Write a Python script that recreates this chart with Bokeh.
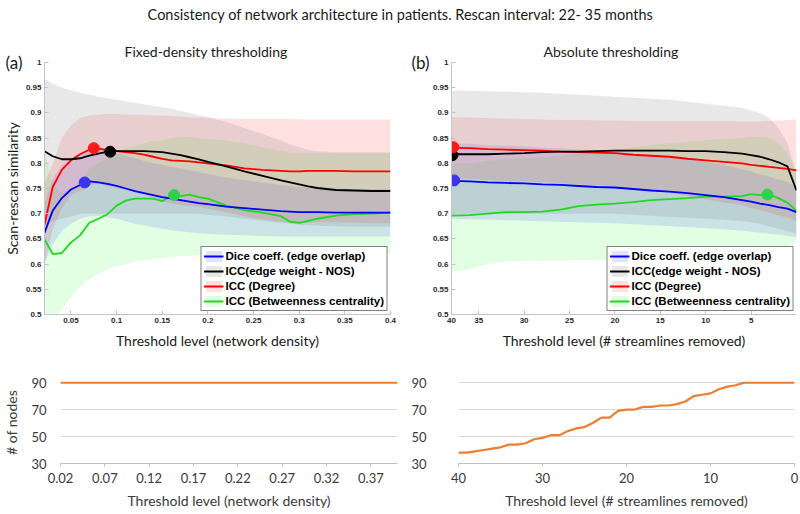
from bokeh.plotting import figure
from bokeh.models import (Range1d, FixedTicker, NumeralTickFormatter, Label, Legend, LegendItem,
                          LinearAxis)
from bokeh.layouts import column, row
from bokeh.embed import file_html
from bokeh.resources import INLINE

# ------------------------------------------------------------------ data
main_title = "Consistency of network architecture in patients. Rescan interval: 22- 35 months"
series_names = ["Dice coeff. (edge overlap)", "ICC(edge weight - NOS)",
                "ICC (Degree)", "ICC (Betweenness centrality)"]

# (a) fixed-density thresholding
density = [0.021, 0.03, 0.04, 0.05, 0.06, 0.07, 0.08, 0.09, 0.10, 0.11, 0.12, 0.13, 0.14, 0.15,
           0.16, 0.17, 0.18, 0.19, 0.20, 0.22, 0.24, 0.26, 0.28, 0.29, 0.30, 0.31, 0.32, 0.34,
           0.36, 0.38, 0.40]
dice_fd = [0.662, 0.706, 0.731, 0.748, 0.757, 0.764, 0.762, 0.759, 0.755, 0.750, 0.745, 0.741,
           0.737, 0.733, 0.730, 0.727, 0.724, 0.721, 0.719, 0.714, 0.711, 0.708, 0.705, 0.704,
           0.703, 0.703, 0.703, 0.702, 0.702, 0.702, 0.702]
dice_fd_lo = [0.600, 0.640, 0.665, 0.680, 0.690, 0.695, 0.695, 0.693, 0.690, 0.685, 0.680, 0.677,
              0.673, 0.670, 0.667, 0.665, 0.663, 0.661, 0.660, 0.658, 0.657, 0.656, 0.655, 0.655,
              0.655, 0.655, 0.655, 0.655, 0.655, 0.655, 0.655]
dice_fd_hi = [0.720, 0.770, 0.795, 0.810, 0.820, 0.830, 0.830, 0.825, 0.820, 0.815, 0.810, 0.805,
              0.800, 0.797, 0.793, 0.790, 0.786, 0.782, 0.779, 0.772, 0.767, 0.762, 0.757, 0.755,
              0.753, 0.752, 0.751, 0.750, 0.749, 0.749, 0.749]
nos_fd = [0.824, 0.814, 0.808, 0.808, 0.810, 0.815, 0.819, 0.823, 0.824, 0.824, 0.824, 0.824,
          0.823, 0.822, 0.819, 0.816, 0.812, 0.808, 0.803, 0.794, 0.784, 0.775, 0.766, 0.762,
          0.758, 0.754, 0.751, 0.747, 0.746, 0.745, 0.745]
nos_fd_lo = [0.680, 0.685, 0.690, 0.695, 0.700, 0.700, 0.700, 0.700, 0.700, 0.700, 0.700, 0.700,
             0.700, 0.700, 0.700, 0.700, 0.700, 0.700, 0.698, 0.695, 0.690, 0.686, 0.682, 0.680,
             0.678, 0.677, 0.676, 0.675, 0.674, 0.674, 0.674]
nos_fd_hi = [0.968, 0.958, 0.950, 0.945, 0.940, 0.936, 0.932, 0.929, 0.926, 0.923, 0.920, 0.917,
             0.914, 0.911, 0.908, 0.904, 0.900, 0.896, 0.892, 0.882, 0.870, 0.858, 0.845, 0.838,
             0.832, 0.827, 0.824, 0.822, 0.822, 0.822, 0.822]
deg_fd = [0.678, 0.753, 0.787, 0.806, 0.818, 0.827, 0.829, 0.826, 0.824, 0.822, 0.820, 0.817,
          0.813, 0.809, 0.806, 0.805, 0.804, 0.802, 0.800, 0.796, 0.790, 0.787, 0.785, 0.784,
          0.784, 0.785, 0.785, 0.785, 0.784, 0.784, 0.784]
deg_fd_lo = [0.600, 0.670, 0.710, 0.737, 0.745, 0.755, 0.760, 0.755, 0.750, 0.747, 0.744, 0.740,
             0.733, 0.725, 0.720, 0.717, 0.716, 0.714, 0.710, 0.703, 0.695, 0.688, 0.684, 0.682,
             0.681, 0.682, 0.683, 0.683, 0.682, 0.681, 0.681]
deg_fd_hi = [0.760, 0.800, 0.850, 0.875, 0.890, 0.895, 0.897, 0.898, 0.898, 0.897, 0.896, 0.896,
             0.895, 0.895, 0.894, 0.893, 0.892, 0.891, 0.890, 0.889, 0.888, 0.888, 0.888, 0.888,
             0.887, 0.887, 0.887, 0.887, 0.887, 0.887, 0.887]
btw_fd = [0.649, 0.620, 0.622, 0.643, 0.657, 0.682, 0.690, 0.699, 0.716, 0.726, 0.730, 0.730,
          0.730, 0.725, 0.735, 0.735, 0.738, 0.733, 0.730, 0.716, 0.707, 0.702, 0.695, 0.684,
          0.682, 0.686, 0.690, 0.696, 0.699, 0.700, 0.702]
btw_fd_lo = [0.470, 0.490, 0.510, 0.535, 0.555, 0.570, 0.580, 0.590, 0.595, 0.600, 0.605, 0.608,
             0.610, 0.612, 0.614, 0.616, 0.617, 0.618, 0.619, 0.620, 0.620, 0.620, 0.620, 0.620,
             0.620, 0.620, 0.620, 0.620, 0.620, 0.620, 0.620]
btw_fd_hi = [0.820, 0.760, 0.740, 0.750, 0.760, 0.790, 0.800, 0.810, 0.820, 0.830, 0.835, 0.840,
             0.845, 0.845, 0.850, 0.852, 0.852, 0.850, 0.848, 0.845, 0.840, 0.832, 0.825, 0.822,
             0.820, 0.820, 0.820, 0.820, 0.820, 0.820, 0.820]
peak_fd_x = [0.065, 0.093, 0.075, 0.163]
peak_fd_y = [0.762, 0.823, 0.830, 0.737]

# (b) absolute thresholding
removed = [38, 36, 34, 32, 30, 28, 26, 24, 22, 20, 18, 16, 14, 12, 10, 8, 6, 5, 4, 3, 2, 1, 0]
dice_ab = [0.765, 0.764, 0.762, 0.761, 0.760, 0.758, 0.757, 0.755, 0.753, 0.752, 0.749, 0.746,
           0.744, 0.741, 0.737, 0.733, 0.727, 0.724, 0.720, 0.717, 0.713, 0.710, 0.703]
dice_ab_lo = [0.690, 0.689, 0.688, 0.687, 0.686, 0.685, 0.684, 0.683, 0.682, 0.681, 0.679, 0.677,
              0.675, 0.673, 0.671, 0.669, 0.666, 0.664, 0.662, 0.660, 0.658, 0.656, 0.654]
dice_ab_hi = [0.840, 0.839, 0.836, 0.835, 0.834, 0.831, 0.830, 0.827, 0.824, 0.823, 0.819, 0.815,
              0.813, 0.809, 0.803, 0.797, 0.788, 0.784, 0.778, 0.774, 0.768, 0.764, 0.752]
nos_ab = [0.818, 0.818, 0.818, 0.819, 0.820, 0.822, 0.823, 0.823, 0.824, 0.825, 0.825, 0.825,
          0.825, 0.824, 0.824, 0.822, 0.819, 0.816, 0.813, 0.808, 0.802, 0.794, 0.746]
nos_ab_lo = [0.700, 0.700, 0.700, 0.700, 0.700, 0.700, 0.700, 0.700, 0.700, 0.700, 0.698, 0.696,
             0.694, 0.692, 0.690, 0.688, 0.685, 0.683, 0.680, 0.675, 0.670, 0.665, 0.660]
nos_ab_hi = [0.944, 0.944, 0.943, 0.942, 0.941, 0.940, 0.938, 0.936, 0.934, 0.932, 0.930, 0.928,
             0.926, 0.922, 0.918, 0.914, 0.910, 0.905, 0.900, 0.890, 0.870, 0.840, 0.780]
deg_ab = [0.831, 0.830, 0.828, 0.827, 0.826, 0.825, 0.823, 0.822, 0.821, 0.820, 0.817, 0.815,
          0.813, 0.809, 0.806, 0.803, 0.800, 0.797, 0.795, 0.793, 0.791, 0.789, 0.786]
deg_ab_lo = [0.770, 0.769, 0.767, 0.765, 0.764, 0.763, 0.760, 0.758, 0.757, 0.755, 0.750, 0.746,
             0.742, 0.735, 0.728, 0.722, 0.717, 0.711, 0.707, 0.702, 0.697, 0.692, 0.685]
deg_ab_hi = [0.892, 0.891, 0.890, 0.889, 0.888, 0.887, 0.886, 0.886, 0.885, 0.885, 0.884, 0.884,
             0.884, 0.884, 0.884, 0.884, 0.883, 0.883, 0.883, 0.884, 0.885, 0.886, 0.887]
btw_ab = [0.696, 0.697, 0.700, 0.703, 0.703, 0.704, 0.708, 0.715, 0.718, 0.720, 0.723, 0.727,
          0.729, 0.731, 0.734, 0.734, 0.735, 0.739, 0.737, 0.738, 0.731, 0.722, 0.706]
btw_ab_lo = [0.585, 0.590, 0.600, 0.605, 0.606, 0.607, 0.607, 0.608, 0.608, 0.609, 0.610, 0.610,
             0.610, 0.610, 0.610, 0.610, 0.610, 0.610, 0.610, 0.610, 0.620, 0.630, 0.650]
btw_ab_hi = [0.800, 0.800, 0.805, 0.808, 0.810, 0.812, 0.815, 0.820, 0.825, 0.828, 0.832, 0.836,
             0.840, 0.843, 0.846, 0.848, 0.850, 0.852, 0.852, 0.850, 0.840, 0.820, 0.780]
peak_ab_x = [37.7, 37.9, 37.8, 3.2]
peak_ab_y = [0.766, 0.816, 0.832, 0.738]

sim_ticks = [0.5, 0.55, 0.6, 0.65, 0.7, 0.75, 0.8, 0.85, 0.9, 0.95, 1.0]
density_ticks = [0.05, 0.1, 0.15, 0.2, 0.25, 0.3, 0.35, 0.4]
removed_ticks = [38, 35, 30, 25, 20, 15, 10, 5]

# node counts
density_nodes_x = [0.02, 0.03, 0.04, 0.05, 0.06, 0.07, 0.08, 0.09, 0.10, 0.11, 0.12, 0.13, 0.14,
                   0.15, 0.16, 0.17, 0.18, 0.19, 0.20, 0.21, 0.22, 0.23, 0.24, 0.25, 0.26, 0.27,
                   0.28, 0.29, 0.30, 0.31, 0.32, 0.33, 0.34, 0.35, 0.36, 0.37, 0.38, 0.39, 0.40]
density_nodes = [90, 90, 90, 90, 90, 90, 90, 90, 90, 90, 90, 90, 90, 90, 90, 90, 90, 90, 90, 90,
                 90, 90, 90, 90, 90, 90, 90, 90, 90, 90, 90, 90, 90, 90, 90, 90, 90, 90, 90]
removed_nodes_x = [40, 39, 38, 37, 36, 35, 34, 33, 32, 31, 30, 29, 28, 27, 26, 25, 24, 23, 22, 21,
                   20, 19, 18, 17, 16, 15, 14, 13, 12, 11, 10, 9, 8, 7, 6, 5, 4, 3, 2, 1, 0]
removed_nodes = [38, 38, 39, 40, 41, 42, 44, 44, 45, 48, 49, 51, 51, 54, 56, 57, 60, 64, 64, 69,
                 70, 70, 72, 72, 73, 73, 74, 76, 80, 81, 82, 85, 87, 88, 90, 90, 90, 90, 90, 90, 90]
node_ticks = [30, 50, 70, 90]
density_node_ticks = [0.02, 0.07, 0.12, 0.17, 0.22, 0.27, 0.32, 0.37]
removed_node_ticks = [40, 30, 20, 10, 0]

# ------------------------------------------------------------------ styles
FONT = "Lato"
LINE_COLORS = ["#0000ff", "#000000", "#ff0000", "#1fd81f"]
FILL_COLORS = ["#0000ff", "#808080", "#ff0000", "#00ff00"]
FILL_ALPHAS = [0.11, 0.18, 0.12, 0.11]
DOT_COLORS = ["#3d33f2", "#000000", "#ff1a1a", "#2ed24a"]
ORANGE = "#ed7d31"


def style_top(p):
    p.outline_line_color = None
    p.grid.visible = False
    for ax in (p.xaxis[0], p.yaxis[0]):
        ax.axis_line_color = "#c4c4c4"
        ax.major_tick_line_color = "#c4c4c4"
        ax.major_tick_in = 4
        ax.major_tick_out = 0
        ax.minor_tick_line_color = None
        ax.major_label_text_font = "Liberation Sans"
        ax.major_label_text_font_style = "bold"
        ax.major_label_text_font_size = "8px"
        ax.major_label_text_color = "#2a2a2a"
        ax.major_label_standoff = 3
        ax.axis_label_text_font = FONT
        ax.axis_label_text_font_size = "14px"
        ax.axis_label_text_font_style = "normal"
        ax.axis_label_text_color = "#1a1a1a"
    p.xaxis.axis_label_standoff = 6
    p.title.text_font = FONT
    p.title.text_font_size = "14px"
    p.title.text_font_style = "normal"
    p.title.text_color = "#1a1a1a"
    p.title.align = "left"
    p.title.standoff = 5


def top_panel(x, means, los, his, px, py, x_range, width, mbl, mbr, title, title_off,
              letter, ylabel, ylabel_standoff):
    p = figure(width=width, height=327, x_range=x_range, y_range=Range1d(0.5, 1.0),
               toolbar_location=None, output_backend="svg",
               min_border_left=mbl, min_border_right=mbr, min_border_top=34, min_border_bottom=41)
    p.title.text = title
    style_top(p)
    p.title.offset = title_off
    bands = {}
    for i in [3, 0, 2, 1]:
        bands[i] = p.varea(x=x, y1=los[i], y2=his[i], fill_color=FILL_COLORS[i],
                           fill_alpha=FILL_ALPHAS[i])
    lines = {}
    for i in [3, 0, 2, 1]:
        lines[i] = p.line(x, means[i], line_color=LINE_COLORS[i], line_width=1.8)
    for i in range(4):
        p.scatter([px[i]], [py[i]], size=11, fill_color=DOT_COLORS[i], line_color=DOT_COLORS[i])
    p.yaxis.ticker = FixedTicker(ticks=sim_ticks)
    p.yaxis.formatter = NumeralTickFormatter(format="0.[00]")
    items = [LegendItem(label=series_names[i], renderers=[bands[i], lines[i]]) for i in range(4)]
    leg = Legend(items=items, location="bottom_right", margin=3, padding=2, spacing=1,
                 glyph_width=20, glyph_height=14, label_height=14, label_standoff=2,
                 label_text_font="Liberation Sans", label_text_font_style="bold",
                 label_text_font_size="11.5px", label_text_color="#000000",
                 border_line_color="#000000", border_line_width=1.3,
                 background_fill_color="white", background_fill_alpha=1.0)
    p.add_layout(leg)
    # panel letter, drawn as the only label of an outer left axis (level with the top of the frame)
    letter_axis = LinearAxis(ticker=FixedTicker(ticks=[1]), major_label_overrides={1: letter},
                             axis_line_color=None, major_tick_line_color=None,
                             major_tick_in=0, major_tick_out=0,
                             minor_tick_line_color=None, minor_tick_in=0, minor_tick_out=0,
                             major_label_standoff=0,
                             major_label_text_font=FONT, major_label_text_font_size="17px",
                             major_label_text_color="#1a1a1a")
    if ylabel:
        letter_axis.axis_label = ylabel
        letter_axis.axis_label_standoff = ylabel_standoff
        letter_axis.axis_label_text_font = FONT
        letter_axis.axis_label_text_font_size = "14px"
        letter_axis.axis_label_text_font_style = "normal"
        letter_axis.axis_label_text_color = "#1a1a1a"
    p.add_layout(letter_axis, "left")
    return p


def bottom_panel(x, y, x_range, ticks, width, mbl, mbr, xlabel, ylabel, ystand):
    p = figure(width=width, height=159, x_range=x_range, y_range=Range1d(30, 90.8),
               toolbar_location=None, output_backend="svg",
               min_border_left=mbl, min_border_right=mbr, min_border_top=26, min_border_bottom=51)
    p.outline_line_color = None
    p.xgrid.visible = False
    p.ygrid.ticker = FixedTicker(ticks=node_ticks)
    p.ygrid.grid_line_color = "#d9d9d9"
    p.line(x, y, line_color=ORANGE, line_width=2.2)
    p.xaxis.ticker = FixedTicker(ticks=ticks)
    p.yaxis.ticker = FixedTicker(ticks=node_ticks)
    p.xaxis.axis_label = xlabel
    if ylabel:
        p.yaxis.axis_label = ylabel
    for ax in (p.xaxis[0], p.yaxis[0]):
        ax.minor_tick_line_color = None
        ax.major_label_text_font = FONT
        ax.major_label_text_font_size = "13px"
        ax.major_label_text_color = "#3a3a3a"
        ax.axis_label_text_font = FONT
        ax.axis_label_text_font_size = "14px"
        ax.axis_label_text_font_style = "normal"
        ax.axis_label_text_color = "#3a3a3a"
    p.yaxis.axis_line_color = None
    p.yaxis.major_tick_line_color = None
    p.yaxis.major_label_standoff = ystand
    p.yaxis.axis_label_standoff = 8
    p.xaxis.axis_line_color = "#bfbfbf"
    p.xaxis.major_tick_line_color = "#bfbfbf"
    p.xaxis.major_tick_in = 0
    p.xaxis.major_tick_out = 3
    p.xaxis.major_label_standoff = 6
    p.xaxis.axis_label_standoff = 6
    return p


means_fd = [dice_fd, nos_fd, deg_fd, btw_fd]
los_fd = [dice_fd_lo, nos_fd_lo, deg_fd_lo, btw_fd_lo]
his_fd = [dice_fd_hi, nos_fd_hi, deg_fd_hi, btw_fd_hi]
means_ab = [dice_ab, nos_ab, deg_ab, btw_ab]
los_ab = [dice_ab_lo, nos_ab_lo, deg_ab_lo, btw_ab_lo]
his_ab = [dice_ab_hi, nos_ab_hi, deg_ab_hi, btw_ab_hi]

pa = top_panel(density, means_fd, los_fd, his_fd, peak_fd_x, peak_fd_y,
               Range1d(0.021, 0.4), 408, 42, 18, "Fixed-density thresholding", 80, "(a)",
               "Scan-rescan similarity", -18)
pa.xaxis.ticker = FixedTicker(ticks=density_ticks)
pa.xaxis.formatter = NumeralTickFormatter(format="0.[00]")
pa.xaxis.axis_label = "Threshold level (network density)"

pb = top_panel(removed, means_ab, los_ab, his_ab, peak_ab_x, peak_ab_y,
               Range1d(38, 0), 392, 40, 4, "Absolute thresholding", 92, "(b)", None, 0)
pb.xaxis.ticker = FixedTicker(ticks=removed_ticks)
pb.xaxis.major_label_overrides = {38: "40"}
pb.xaxis.axis_label = "Threshold level (# streamlines removed)"

pc = bottom_panel(density_nodes_x, density_nodes, Range1d(0.02, 0.40), density_node_ticks,
                  408, 59, 11, "Threshold level (network density)", "# of nodes", 8)
pc.xaxis.formatter = NumeralTickFormatter(format="0.00")
pd_ = bottom_panel(removed_nodes_x, removed_nodes, Range1d(40, 0), removed_node_ticks,
                   392, 48, 6, "Threshold level (# streamlines removed)", None, 26)

header = figure(width=800, height=28, toolbar_location=None, output_backend="svg",
                x_axis_location=None, y_axis_location=None, min_border=0)
header.outline_line_color = None
header.grid.visible = False
header.add_layout(Label(x=400, y=14, x_units="screen", y_units="screen", text=main_title,
                        text_font=FONT, text_font_size="14.5px", text_align="center",
                        text_baseline="middle", text_color="#1a1a1a"))

layout = column(header, row(pa, pb), row(pc, pd_))
open("out.html", "w").write(file_html(layout, INLINE))
